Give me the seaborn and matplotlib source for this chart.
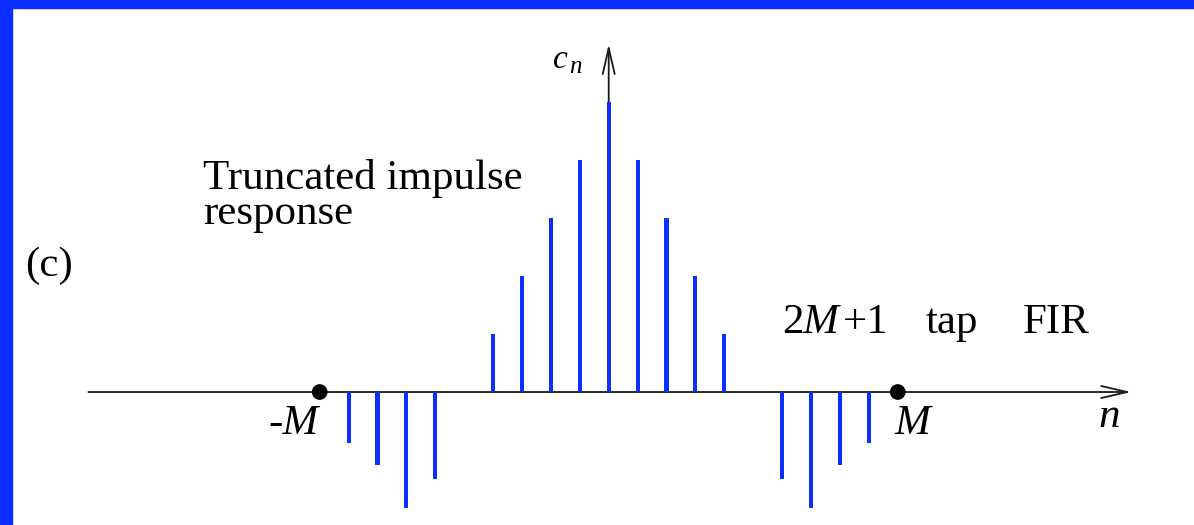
import matplotlib
matplotlib.use("Agg")
import matplotlib.pyplot as plt
from matplotlib.patches import Rectangle
import pandas as pd
import seaborn as sns

# Truncated impulse response c_n of a (2M+1)-tap FIR filter, M = 10
n_vals = list(range(-10, 11))
c_vals = [0, -0.875, -1.25, -2.0, -1.5, 0, 1, 2, 3, 4, 5,
          4, 3, 2, 1, 0, -1.5, -2.0, -1.25, -0.875, 0]
end_n = [-10, 10]
end_c = [0, 0]

BLUE = "#0c2eff"
INK = "#1a1a1a"
W, H, DPI = 1194, 525, 100

sns.set_theme(style="white")
plt.rcParams["font.family"] = ["Liberation Serif", "DejaVu Serif"]

fig = plt.figure(figsize=(W / DPI, H / DPI), dpi=DPI)
fig.patch.set_facecolor("white")
ax = fig.add_axes([0, 0, 1, 1])

df = pd.DataFrame({"n": n_vals, "c": c_vals})
sns.barplot(data=df, x="n", y="c", native_scale=True, orient="x",
            width=0.14, color=BLUE, saturation=1, linewidth=0,
            errorbar=None, ax=ax, zorder=3)

# end points of the window at -M and M
sns.scatterplot(x=end_n, y=end_c, s=128, color="black", edgecolor="none",
                legend=False, ax=ax, zorder=5)

ax.set_xlim(-21.06, 20.25)
ax.set_ylim(-2.293, 6.759)
ax.axis("off")

# n axis and c_n axis with arrow heads
arrow = dict(arrowstyle="->,head_length=1.3,head_width=0.3", lw=1.3,
             color=INK, mutation_scale=14.4, shrinkA=0, shrinkB=0)
ax.annotate("", xy=(18.08, 0), xytext=(-18.0, 0), arrowprops=arrow, zorder=2)
ax.annotate("", xy=(0, 6.0), xytext=(0, 0), arrowprops=arrow, zorder=2)


def label(x, y, s, size=31, style="normal"):
    fig.text(x / W, 1 - y / H, s, fontsize=size, fontstyle=style,
             color="black", ha="left", va="baseline")


label(203, 189, "Truncated impulse")
label(203, 224, "response")
label(25, 276, "(c)")
label(782, 333, "2")
label(803, 333, "M", style="italic")
label(843, 333, "+1")
label(926, 333, "tap")
label(1023, 333, "FIR")
label(268, 434, "-M", style="italic")
label(895, 434, "M", style="italic")
label(1098, 427, "n", style="italic")
label(553, 68, "c", size=24, style="italic")
label(569, 73, "n", size=18, style="italic")

# blue frame on the left and top edges
fig.patches.append(Rectangle((0, 0), 12 / W, 1, transform=fig.transFigure,
                             color=BLUE, zorder=10))
fig.patches.append(Rectangle((0, 1 - 8 / H), 1, 8 / H, transform=fig.transFigure,
                             color=BLUE, zorder=10))

fig.savefig("out.png", dpi=DPI)
